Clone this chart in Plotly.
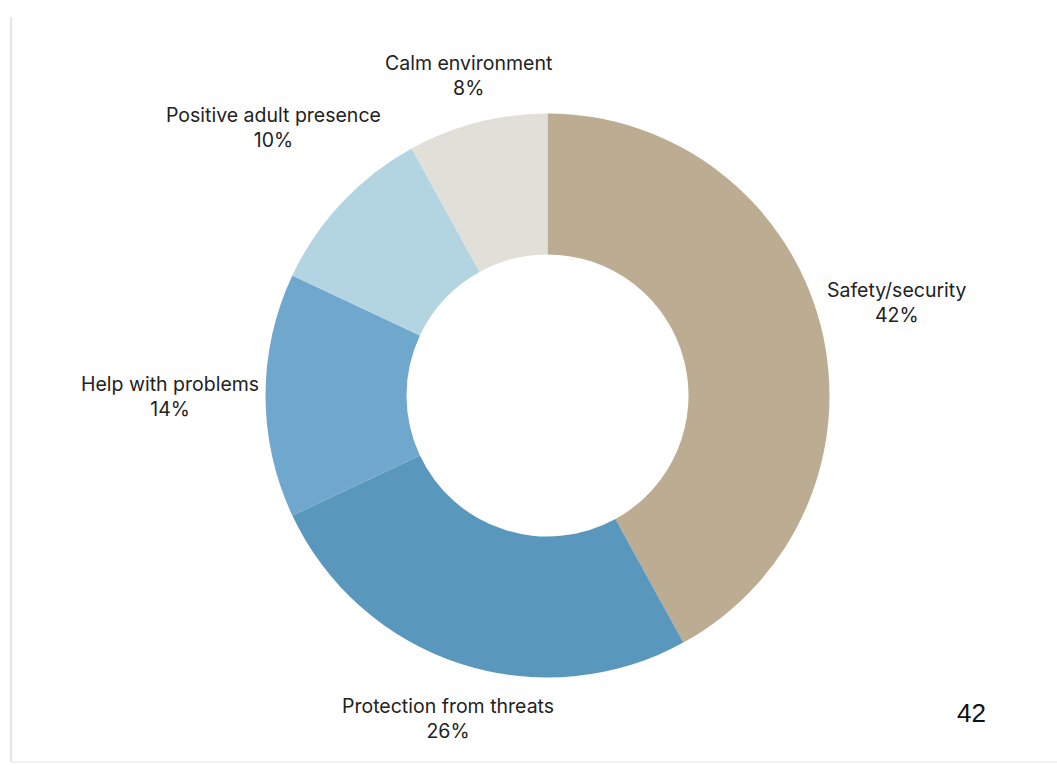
import plotly.graph_objects as go

# Survey shares: what a positive adult presence provides
categories = ["Safety/security", "Protection from threats", "Help with problems",
              "Positive adult presence", "Calm environment"]
shares = [42, 26, 14, 10, 8]
slice_colors = ["#BCAC91", "#5A97BD", "#6FA8CC", "#B3D5E1", "#E0DFD8"]
page_number = "42"

W, H = 1057, 765
cx, cy, r = 547.5, 395.5, 282  # pie centre and radius in pixels

# Label block centres (pixels from top-left), one per category
label_pos = [(897, 303), (447.5, 718), (170, 396), (273.5, 128), (468, 76)]

fig = go.Figure(go.Pie(
    labels=categories,
    values=shares,
    sort=False,
    direction="clockwise",
    rotation=0,
    hole=0.5,
    marker=dict(colors=slice_colors, line=dict(width=0)),
    textinfo="none",
    domain=dict(x=[(cx - r) / W, (cx + r) / W],
                y=[(H - cy - r) / H, (H - cy + r) / H]),
    hoverinfo="label+percent",
    showlegend=False,
))

for name, val, (px, py) in zip(categories, shares, label_pos):
    fig.add_annotation(text=f"{name}<br>{val}%", xref="paper", yref="paper",
                       x=px / W, y=1 - py / H, xanchor="center", yanchor="middle",
                       showarrow=False, align="center",
                       font=dict(family="Inter", size=19.5, color="#222222"))

# Page frame: faint left and bottom edges
fig.add_shape(type="line", xref="paper", yref="paper",
              x0=11 / W, x1=11 / W, y0=3 / H, y1=1 - 17 / H,
              line=dict(color="#DDDDDD", width=1.5))
fig.add_shape(type="line", xref="paper", yref="paper",
              x0=11 / W, x1=1, y0=3 / H, y1=3 / H,
              line=dict(color="#EEEEEE", width=1.5))

fig.add_annotation(text=page_number, xref="paper", yref="paper",
                   x=971 / W, y=1 - 713 / H, xanchor="center", yanchor="middle",
                   showarrow=False,
                   font=dict(family="Liberation Sans", size=26, color="#111111"))

fig.update_layout(
    width=W, height=H,
    margin=dict(l=0, r=0, t=0, b=0),
    paper_bgcolor="white",
    plot_bgcolor="white",
)

fig.write_html("out.html")
